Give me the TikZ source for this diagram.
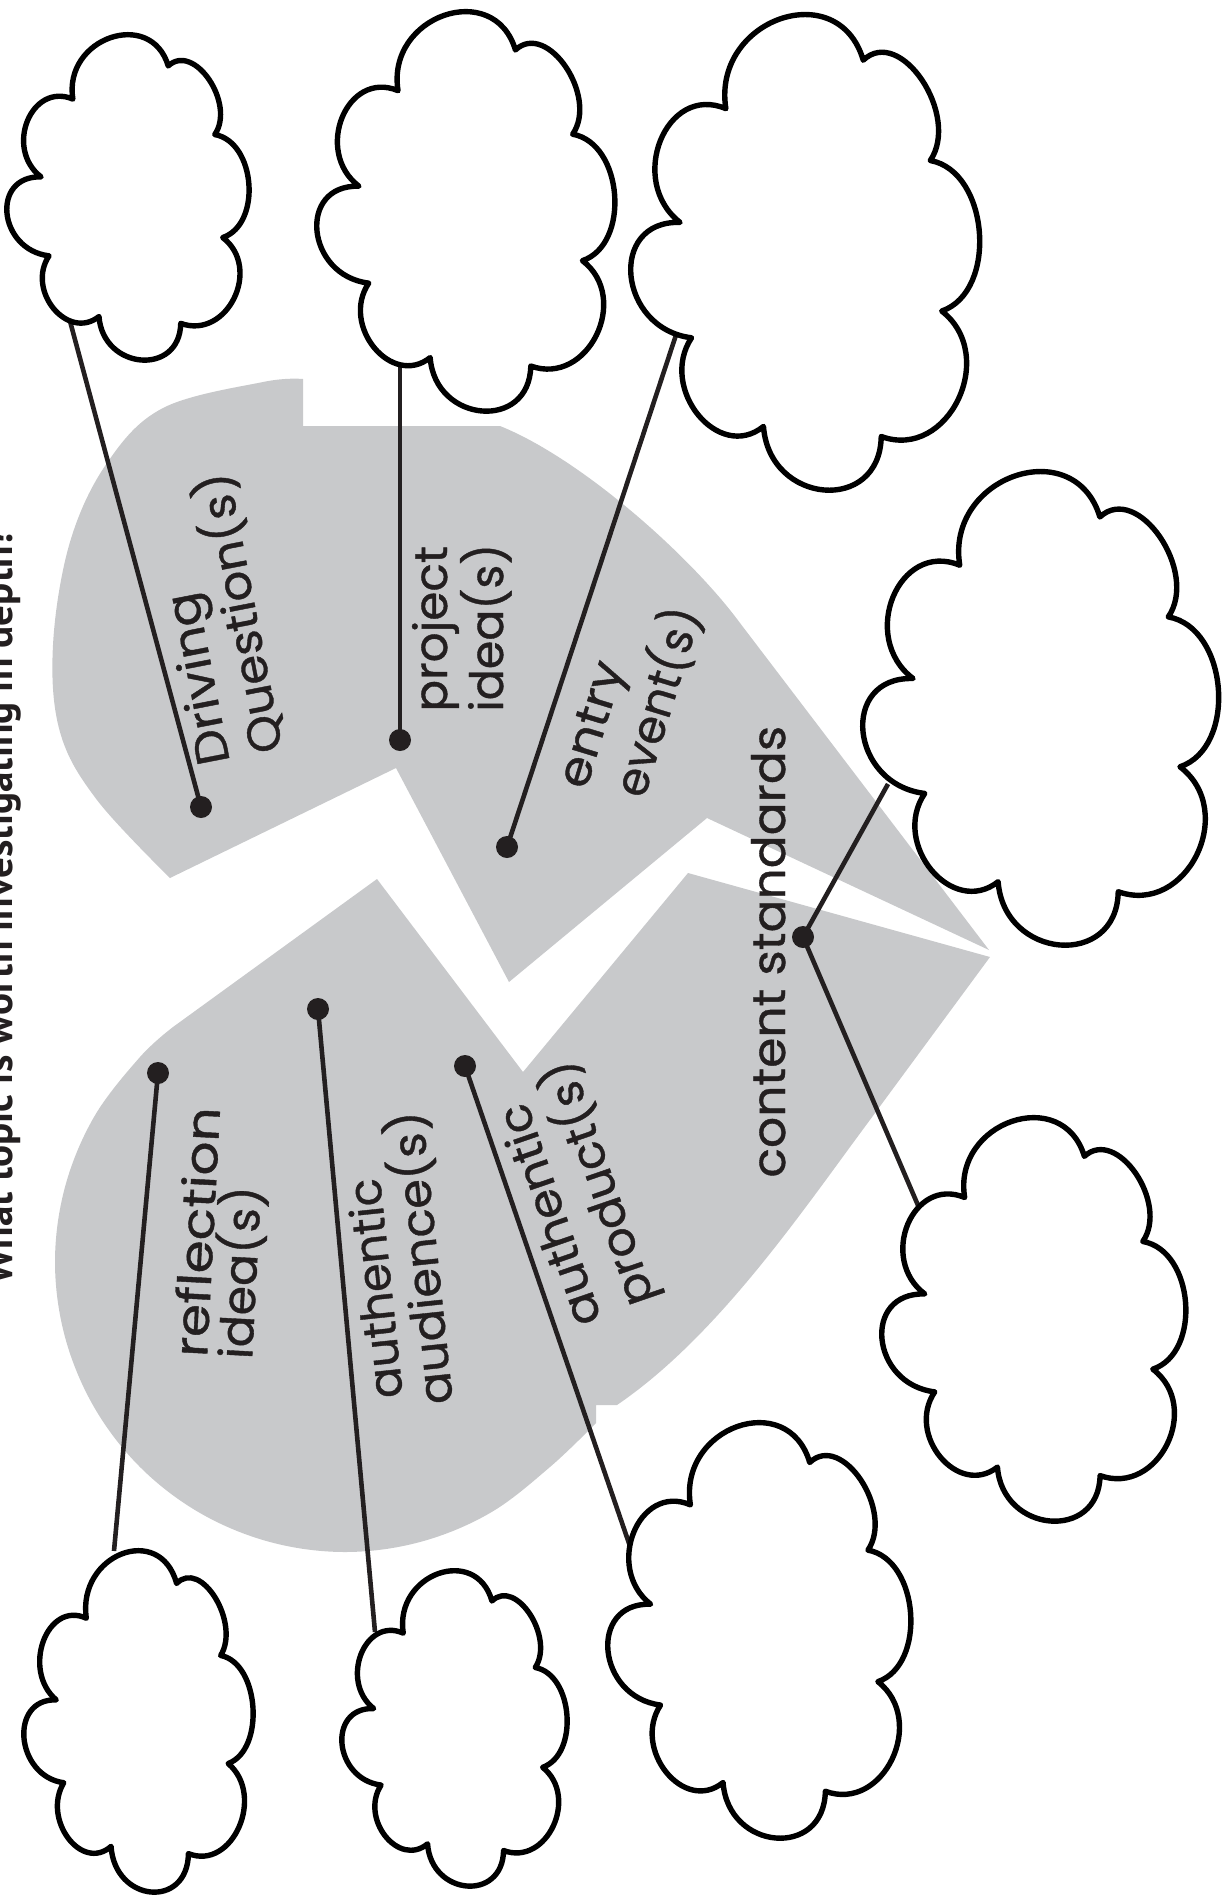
\documentclass[tikz,border=0pt]{standalone}
\usepackage{fontspec}
\usepackage{graphicx}
\newfontfamily\handfont{Poppins}[FakeBold=0.8]
\newfontfamily\titlefont{PT Sans}
\definecolor{heartgray}{RGB}{200,201,203}
\definecolor{ink}{RGB}{35,31,32}
\newcommand{\hs}[2]{\scalebox{#1}[1]{#2}}
\newcommand{\cloudshape}[4]{%
  \pgfmathsetmacro\cloudsx{#3/1070}%
  \pgfmathsetmacro\cloudsy{#4/1420}%
  \begin{scope}[shift={(#1,#2)}, xscale=\cloudsx, yscale=\cloudsy]
    \draw[cloudline] (290,280)
      .. controls (246.8,13.5) and (633.2,-119.9) .. (710,135)
      .. controls (823.6,30) and (1008.1,300) .. (915,435)
      .. controls (1095.2,466.7) and (1123.2,826.7) .. (950,885)
      .. controls (1125.2,1018.3) and (969.8,1333.3) .. (765,1260)
      .. controls (760.9,1492.4) and (422.5,1464.2) .. (405,1230)
      .. controls (267.4,1338.8) and (82.6,1116.2) .. (185,965)
      .. controls (-39.4,938) and (-72.3,613.7) .. (150,620)
      .. controls (-13.5,496.2) and (106.9,203.8) .. (290,280) -- cycle;
  \end{scope}}
\begin{document}
\begin{tikzpicture}[x=0.5pt, y=-0.5pt,
  heart/.style={fill=heartgray, draw=none},
  cloudline/.style={draw=black, fill=white, line width=2.7pt, line join=round},
  conn/.style={draw=ink, line width=2.3pt},
  dot/.style={circle, fill=ink, inner sep=0pt, minimum size=11pt},
  lbl/.style={font=\handfont\fontsize{23}{27}\selectfont, text=ink, inner sep=0pt, anchor=base west},
  ttl/.style={font=\titlefont\bfseries, text=ink, inner sep=0pt, anchor=base west}]
\useasboundingbox (0,0) rectangle (1228,1896);

% title (cut by the page edge)
\node[ttl, rotate=90] (title) at (12,1285) {\resizebox{378.5pt}{!}{What topic is worth investigating in depth?}};

% broken heart, upper piece
\fill[heart] (303,426) -- (303,379)
  -- plot[smooth, tension=0.6] coordinates {(303,379) (263,382) (163,408) (107,463) (70,542) (53,645) (60,732) (97,800) (170,878)}
  -- (396,768) -- (509,982) -- (707,818) -- (989,950) -- (740,623)
  .. controls (690,555) and (580,458) .. (500,426) -- cycle;
% broken heart, lower piece
\fill[heart] (173,1027) -- (377,879) -- (523,1072) -- (688,873) -- (990,957) -- (850,1147)
  .. controls (785,1236) and (708,1343) .. (617,1405) -- (596,1405) -- (596,1423)
  -- plot[smooth, tension=0.6] coordinates {(596,1423) (550,1467) (490,1513) (420,1542) (345,1552) (270,1542) (200,1513) (140,1467) (94,1407) (65,1337) (55,1262) (65,1187) (94,1117) (140,1057) (173,1027)}
  -- cycle;

% labels
\node[lbl, rotate=101] (lDQa) at (230,762) {\hs{1.10}{Driving}};
\node[lbl, rotate=101] (lDQb) at (283,750) {\hs{1.05}{Question(s)}};
\node[lbl, rotate=90] (lPIa) at (447,712) {\hs{1.02}{project}};
\node[lbl, rotate=90] (lPIb) at (503,712) {\hs{1.0}{idea(s)}};
\node[lbl, rotate=73] (lEEa) at (586,791) {\hs{1.10}{entry}};
\node[lbl, rotate=73] (lEEb) at (644,800) {\hs{1.0}{event(s)}};
\node[lbl, rotate=90] (lCS) at (785,1178) {\hs{1.06}{content standards}};
\node[lbl, rotate=87] (lRIa) at (207,1358) {\hs{1.16}{reflection}};
\node[lbl, rotate=87] (lRIb) at (252,1360) {\hs{1.03}{idea(s)}};
\node[lbl, rotate=96] (lAAa) at (403,1397) {\hs{1.0}{authentic}};
\node[lbl, rotate=96] (lAAb) at (453,1403) {\hs{1.04}{audience(s)}};
\node[lbl, rotate=109] (lAPa) at (602,1320) {\hs{1.05}{authentic}};
\node[lbl, rotate=109] (lAPb) at (655,1300) {\hs{1.03}{product(s)}};

% dots
\node[dot] (dDQ) at (201,807) {};
\node[dot] (dPI) at (400,740) {};
\node[dot] (dEE) at (507,847) {};
\node[dot] (dCS) at (803,937) {};
\node[dot] (dRI) at (158,1073) {};
\node[dot] (dAA) at (318,1009) {};
\node[dot] (dAP) at (465,1066) {};

% cloud attachment points
\coordinate (c1) at (67,310);
\coordinate (c2) at (400,358);
\coordinate (c3) at (677,332);
\coordinate (c4) at (888,784);
\coordinate (c5) at (920,1210);
\coordinate (c6) at (632,1552);
\coordinate (c7) at (375,1632);
\coordinate (c8) at (114,1551);

% connectors
\draw[conn] (dDQ.center) -- (c1);
\draw[conn] (dPI.center) -- (c2);
\draw[conn] (dEE.center) -- (c3);
\draw[conn] (dCS.center) -- (c4);
\draw[conn] (dCS.center) -- (c5);
\draw[conn] (dRI.center) -- (c8);
\draw[conn] (dAA.center) -- (c7);
\draw[conn] (dAP.center) -- (c6);

% clouds
\cloudshape{7}{35}{243}{325}
\cloudshape{317}{12}{299}{399}
\cloudshape{631}{15}{350}{475}
\cloudshape{863}{472}{357}{473}
\cloudshape{882}{1118}{305}{403}
\cloudshape{608}{1423}{304}{415}
\cloudshape{342}{1571}{226}{315}
\cloudshape{24}{1551}{230}{341}
\end{tikzpicture}
\end{document}
